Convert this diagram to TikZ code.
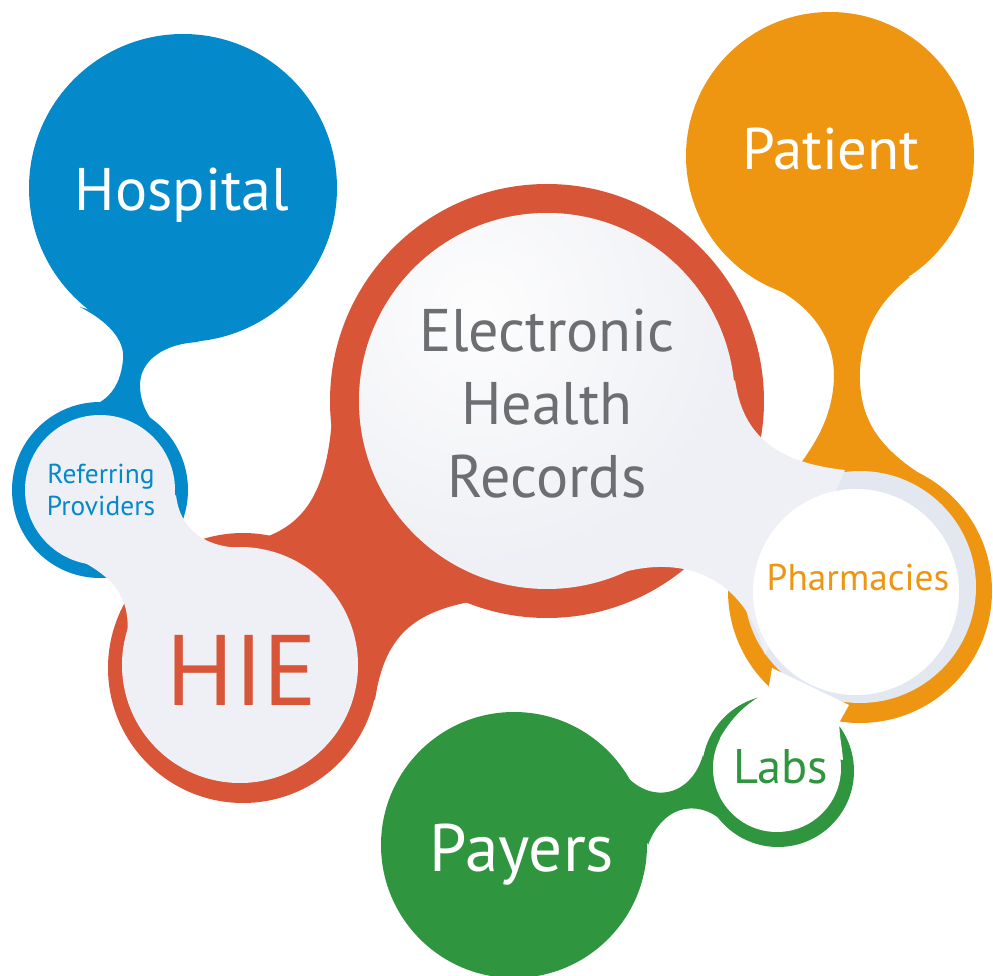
\documentclass[tikz,border=0pt]{standalone}
\usepackage{fontspec}
\setmainfont{PT Sans}
\usepackage{tikz}
\usetikzlibrary{fadings}

\definecolor{hospblue}{HTML}{0489CB}
\definecolor{ehrred}{HTML}{D85637}
\definecolor{patorange}{HTML}{EE9611}
\definecolor{paygreen}{HTML}{30953F}
\definecolor{bubble}{HTML}{EFF0F5}
\definecolor{rim}{HTML}{E3E8F0}
\definecolor{ehrtext}{HTML}{6D6E72}

\tikzfading[name=glow, inner color=transparent!0, outer color=transparent!100]

\tikzset{
  word/.style={anchor=base, inner sep=0pt},
  white word/.style={word, text=white},
}

\begin{document}
\begin{tikzpicture}[x=0.01cm,y=-0.01cm]
\useasboundingbox (0,0) rectangle (993,976);

% hospital with referring providers
\fill[hospblue] (183,188) circle (154);
\fill[hospblue] (80,307) .. controls (115,325) and (125,345) .. (123,360) .. controls (120,390) and (105,405) .. (78,410)
  -- (165,435) .. controls (155,425) and (140,410) .. (140,385) .. controls (140,360) and (165,343) .. (200,342) -- cycle;
\fill[hospblue] (100,490) circle (88);
\fill[bubble] (100,490) circle (75);

% EHR and HIE
\fill[ehrred] (547,401) circle (217);
\fill[ehrred] (243,668) circle (135);
\fill[ehrred] (333,370) .. controls (336,520) and (290,540) .. (210,548)
  -- (375,700) .. controls (385,630) and (420,610) .. (480,600) -- cycle;
\fill[bubble] (547,401) circle (188);
\begin{scope}
  \clip (547,401) circle (188);
  \fill[white, path fading=glow, opacity=0.9] (480,310) circle (260);
\end{scope}
\fill[bubble] (240,665) circle (118);
\fill[bubble] (176,495) .. controls (180,530) and (205,548) .. (245,548)
  -- (127,640) .. controls (130,610) and (125,585) .. (85,563) -- cycle;

% patient with pharmacies
\fill[patorange] (830,156) circle (144);
\fill[patorange] (757,280) .. controls (810,300) and (840,340) .. (833,390) .. controls (828,430) and (805,460) .. (775,495)
  -- (930,480) .. controls (880,450) and (858,420) .. (860,370) .. controls (862,330) and (880,300) .. (910,277) -- cycle;
\fill[patorange] (860,591) circle (132);
\fill[rim] (860,587) circle (116);
\fill[bubble] (735,380) .. controls (742,430) and (770,462) .. (845,470)
  -- (765,655) .. controls (745,575) and (680,550) .. (605,578) -- cycle;
\fill[white] (856,592) circle (103);

% payers with labs
\fill[paygreen] (514,845) circle (133);
\fill[paygreen] (620,768) .. controls (645,805) and (690,800) .. (703,755)
  -- (727,826) .. controls (705,800) and (665,800) .. (648,845) -- cycle;
\fill[paygreen] (778,771) circle (76);
\fill[white] (777,768) circle (64);
\fill[white] (720,738) .. controls (735,712) and (752,700) .. (768,692) -- (772,668)
  -- (849,705) -- (840,721) .. controls (838,730) and (842,745) .. (843,760) -- cycle;

% labels
\node[white word, font=\fontsize{17.1}{20}\selectfont] (hospital) at (182,211) {Hospital};
\node[word, text=hospblue, font=\fontsize{7.8}{9}\selectfont] (referring) at (101,484) {Referring};
\node[word, text=hospblue, font=\fontsize{7.8}{9}\selectfont] (providers) at (101,516) {Providers};
\node[word, text=ehrtext, font=\fontsize{17.1}{20}\selectfont] (electronic) at (547,352) {Electronic};
\node[word, text=ehrtext, font=\fontsize{17.1}{20}\selectfont] (health) at (547,425) {Health};
\node[word, text=ehrtext, font=\fontsize{17.1}{20}\selectfont] (records) at (547,498) {Records};
\node[word, text=ehrred, font=\fontsize{28.5}{30}\selectfont] (hie) at (242,706) {HIE};
\node[white word, font=\fontsize{16.7}{20}\selectfont] (patient) at (831,170) {Patient};
\node[word, text=patorange, font=\fontsize{10.6}{12}\selectfont] (pharmacies) at (858,591) {Pharmacies};
\node[white word, font=\fontsize{19.1}{22}\selectfont] (payers) at (522,872) {Payers};
\node[word, text=paygreen, font=\fontsize{13.8}{16}\selectfont] (labs) at (781,784) {Labs};
\end{tikzpicture}
\end{document}
